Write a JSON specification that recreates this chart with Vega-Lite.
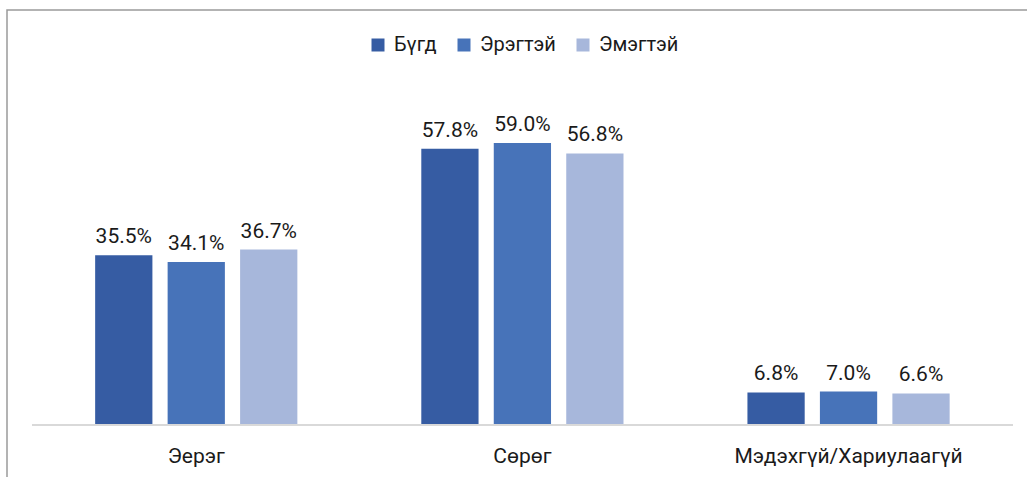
{
  "$schema": "https://vega.github.io/schema/vega-lite/v6.json",
  "autosize": {"type": "none"},
  "padding": {"left": 7, "top": 10, "right": 0, "bottom": 0},
  "width": 1025,
  "height": 480,
  "background": "white",
  "config": {
    "view": {"stroke": "#9a9a9a", "strokeWidth": 1.5},
    "font": "Roboto"
  },
  "data": {
    "values": [
      {"cat": "Эерэг", "series": "Бүгд", "value": 0.355},
      {"cat": "Эерэг", "series": "Эрэгтэй", "value": 0.341},
      {"cat": "Эерэг", "series": "Эмэгтэй", "value": 0.367},
      {"cat": "Сөрөг", "series": "Бүгд", "value": 0.578},
      {"cat": "Сөрөг", "series": "Эрэгтэй", "value": 0.590},
      {"cat": "Сөрөг", "series": "Эмэгтэй", "value": 0.568},
      {"cat": "Мэдэхгүй/Хариулаагүй", "series": "Бүгд", "value": 0.068},
      {"cat": "Мэдэхгүй/Хариулаагүй", "series": "Эрэгтэй", "value": 0.070},
      {"cat": "Мэдэхгүй/Хариулаагүй", "series": "Эмэгтэй", "value": 0.066}
    ]
  },
  "encoding": {
    "x": {
      "field": "cat",
      "type": "nominal",
      "sort": ["Эерэг", "Сөрөг", "Мэдэхгүй/Хариулаагүй"],
      "scale": {"paddingInner": 0.38, "paddingOuter": 0.2614, "align": 0.517},
      "axis": {
        "title": null,
        "domain": false,
        "ticks": false,
        "labelAngle": 0,
        "offset": -65,
        "labelPadding": 20,
        "labelFontSize": 21,
        "labelLimit": 0,
        "labelColor": "#1a1a1a",
        "labelFont": "Roboto"
      }
    },
    "y": {
      "field": "value",
      "type": "quantitative",
      "scale": {"domain": [-0.136, 0.868], "nice": false, "zero": false},
      "axis": null
    }
  },
  "layer": [
    {
      "mark": {"type": "bar"},
      "encoding": {
        "xOffset": {
          "field": "series",
          "type": "nominal",
          "sort": ["Бүгд", "Эрэгтэй", "Эмэгтэй"],
          "scale": {"paddingInner": 0.21, "paddingOuter": 0}
        },
        "color": {
          "field": "series",
          "type": "nominal",
          "sort": ["Бүгд", "Эрэгтэй", "Эмэгтэй"],
          "scale": {"domain": ["Бүгд", "Эрэгтэй", "Эмэгтэй"], "range": ["#365ca3", "#4773b9", "#a7b7db"]},
          "legend": {
            "title": null,
            "orient": "none",
            "direction": "horizontal",
            "legendX": 361,
            "legendY": 25,
            "symbolType": "square",
            "symbolSize": 169,
            "symbolStrokeWidth": 0,
            "symbolOpacity": 1,
            "labelFontSize": 20,
            "labelFont": "Roboto",
            "labelColor": "#1a1a1a",
            "labelOffset": 6,
            "columnPadding": 17
          }
        }
      }
    },
    {
      "mark": {"type": "text", "baseline": "alphabetic", "dy": -12, "fontSize": 21, "font": "Roboto", "color": "#1a1a1a"},
      "encoding": {
        "xOffset": {
          "field": "series",
          "type": "nominal",
          "sort": ["Бүгд", "Эрэгтэй", "Эмэгтэй"]
        },
        "text": {"field": "value", "type": "quantitative", "format": ".1%"}
      }
    },
    {
      "mark": {"type": "rule", "color": "#d9d9d9", "strokeWidth": 2},
      "encoding": {
        "x": {"datum": "Эерэг", "bandPosition": -0.312},
        "x2": {"datum": "Мэдэхгүй/Хариулаагүй", "bandPosition": 1.312},
        "y": {"datum": 0}
      }
    }
  ]
}
